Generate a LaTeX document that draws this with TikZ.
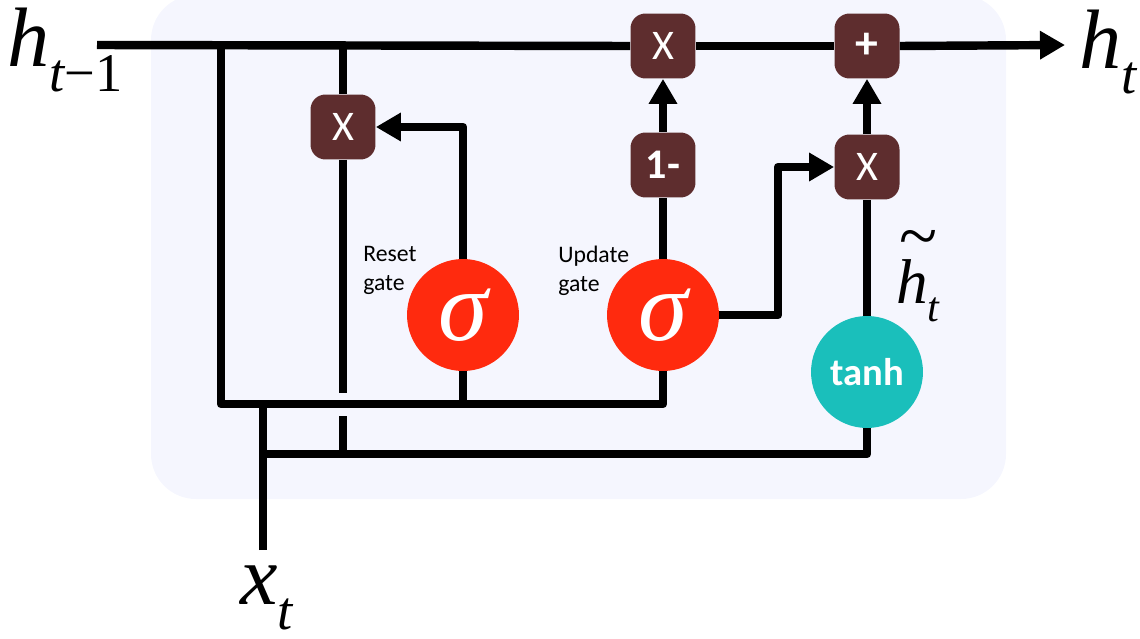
\documentclass[tikz,border=0pt]{standalone}
\usepackage{fontspec}
\setsansfont{Carlito}
\newfontfamily\symserif{Liberation Serif}
\usetikzlibrary{arrows.meta}
\definecolor{cellbg}{HTML}{F5F6FE}
\definecolor{opbrown}{HTML}{5E2D2E}
\definecolor{gatered}{HTML}{FF2A0E}
\definecolor{tanhteal}{HTML}{1ABFBB}
% italic letter with a lowered subscript
\newcommand{\sublabel}[2]{{\itshape #1}\raisebox{-0.3em}{\fontsize{31}{31}\selectfont\itshape #2}}
\tikzset{
  link/.style={line width=4.8pt, line join=round},
  flow/.style={link, -{Triangle[length=0.5cm, width=0.54cm]}},
  opbox/.style={fill=opbrown, rounded corners=0.3cm, minimum size=1.3cm, inner sep=0pt,
    text=white, font=\sffamily\fontsize{24}{24}\selectfont},
  sigmoid/.style={circle, fill=gatered, minimum size=2.24cm, inner sep=0pt,
    text=white, font=\symserif\itshape\fontsize{57}{57}\selectfont},
  squash/.style={circle, fill=tanhteal, minimum size=2.24cm, inner sep=0pt,
    text=white, font=\sffamily\bfseries\fontsize{22}{22}\selectfont},
  gatelabel/.style={anchor=north west, align=left, inner sep=0pt,
    font=\sffamily\fontsize{13.5}{16.5}\selectfont},
  biglabel/.style={inner sep=0pt, font=\symserif\fontsize{48}{48}\selectfont}
}
\begin{document}
\begin{tikzpicture}[x=0.02cm, y=-0.02cm]
\useasboundingbox (0,0) rectangle (1140,639);
% ---------- the cell ----------
\fill[cellbg, rounded corners=0.9cm] (151,-5) rectangle (1006,499);
% ---------- gates and pointwise ops ----------
\node[opbox] (resetmul) at (343,127) {X};
\node[opbox] (keepmul) at (663,46) {X};
\node[opbox, font=\sffamily\bfseries\fontsize{24}{24}\selectfont] (oneminus) at (663,165) {1-};
\node[opbox, font=\sffamily\bfseries\fontsize{26}{26}\selectfont] (addnode) at (867,46) {+};
\node[opbox] (candmul) at (867,167) {X};
\node[sigmoid] (reset) at (463,315) {σ};
\node[sigmoid] (update) at (663,315) {σ};
\node[squash] (cand) at (867,372) {tanh};
% labels
\node[gatelabel] (resetlab) at (363,246) {Reset\\gate};
\node[gatelabel] (updatelab) at (558,246) {Update\\gate};
\node[biglabel, anchor=base west] (hprev) at (7,66) {\sublabel{h}{t\upshape −1}};
\node[biglabel, anchor=base west] (hnext) at (1079,68) {\sublabel{h}{t}};
\node[biglabel, anchor=base west] (xin) at (240,604) {\sublabel{x}{t}};
\node[biglabel, anchor=base west, font=\symserif\fontsize{36}{36}\selectfont] (candlab) at (896,303)
  {\rlap{\kern0.05em\raisebox{0.68em}{\fontsize{40}{40}\selectfont\char"007E}}{\itshape h}\raisebox{-0.3em}{\fontsize{24}{24}\selectfont\itshape t}};
% ---------- free ends and corners ----------
\coordinate (hstart) at (97,45);
\coordinate (hend) at (1065,45);
\coordinate (xstart) at (263,550);
\coordinate (tapone) at (221,45);
\coordinate (taptwo) at (343,45);
\coordinate (busone) at (221,404);
\coordinate (bustwo) at (263,454);
\coordinate (bend) at (778,315);
% ---------- state line ----------
\draw[link] (hstart) -- (keepmul.west);
\draw[link] (keepmul.east) -- (addnode.west);
\draw[flow] (addnode.east) -- (hend);
% ---------- inputs ----------
\draw[link] (tapone) -- (busone) -| (update.south);
\draw[link] (reset.south) -- (reset.south |- busone);
\draw[link] (xstart) -- (xstart |- busone);
\draw[link] (bustwo) -| (cand.south);
\draw[link] (taptwo) -- (resetmul.north);
\draw[link] (resetmul.south) -- (343,393);
\draw[link] (343,416) -- (343,454);
% ---------- gate outputs ----------
\draw[flow] (reset.north) |- (resetmul.east);
\draw[link] (update.north) -- (oneminus.south);
\draw[flow] (oneminus.north) -- (keepmul.south);
\draw[flow] (update.east) -- (bend) |- (candmul.west);
\draw[link] (cand.north) -- (candmul.south);
\draw[flow] (candmul.north) -- (addnode.south);
\end{tikzpicture}
\end{document}
